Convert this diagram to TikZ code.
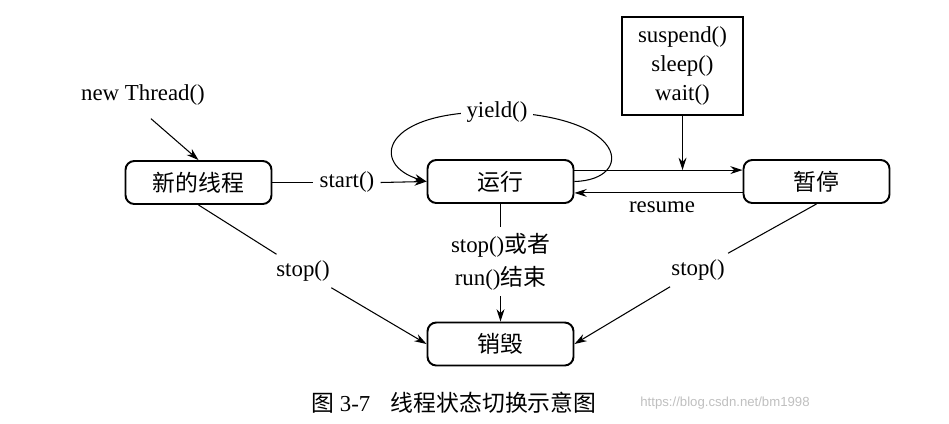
\documentclass[tikz,border=0pt]{standalone}
\usepackage{fontspec}
\setmainfont{Liberation Serif}
\newfontfamily\cjk{Noto Sans CJK SC}
\newfontfamily\wmfont{Liberation Sans}
\usetikzlibrary{arrows.meta,positioning}

\tikzset{
    state/.style={draw, rounded corners=5pt, line width=1.1pt, minimum width=2.92cm, minimum height=0.86cm, font=\fontsize{13}{16}\selectfont\cjk},
    lbl/.style={font=\fontsize{13}{18.7}\selectfont, align=center},
}

\begin{document}
\begin{tikzpicture}[x=0.02cm, y=-0.02cm, >={Stealth[length=7pt,width=4.5pt]}, line width=0.6pt]
        \useasboundingbox (0,0) rectangle (949,423);

        % the states
        \node[state] (new) at (198.5,182.5) {新的线程};
        \node[state] (run) at (500.5,181.5) {运行};
        \node[state] (pause) at (816.5,181.5) {暂停};
        \node[state] (kill) at (500.5,344) {销毁};
        \node[draw, line width=1pt, minimum width=2.42cm, minimum height=1.96cm, lbl, font=\fontsize{13}{16.5}\selectfont] (susp) at (682.5,66) {suspend()\\sleep()\\wait()};

        % the texts on the connectors
        \node[lbl] (newthr) at (143,95) {new Thread()};
        \node[lbl] (start) at (347,182.5) {start()};
        \node[lbl] (resume) at (662,207) {resume};
        \node[lbl] (stopL) at (303,271) {stop()};
        \node[lbl] (stopR) at (698,270) {stop()};
        \node[lbl] (stopM) at (500.5,261.5) {stop(){\cjk 或者}\\run(){\cjk 结束}};

        % the yield loop, the label is put on it afterwards
        \coordinate (ytop) at (497,112);
        \draw[->] (run.east) .. controls (635,180) and (630,115) .. (ytop) .. controls (380,110) and (370,165) .. (run.west);
        \node[lbl, fill=white] (yield) at (ytop) {yield()};

        % draw the arrows
        \draw[->, shorten <=6pt] (newthr.south) -- (new.north);
        \draw (new.east) -- (start.west);
        \draw[->] (start.east) -- (run.west);
        \draw[->] ([yshift=6.5pt]run.east) -- ([yshift=6.5pt]pause.west);
        \draw[->] ([yshift=-6.5pt]pause.west) -- ([yshift=-6.5pt]run.east);
        \path ([yshift=6.5pt]pause.west) coordinate (pin);
        \draw[->] (susp.south) -- (susp.south |- pin);
        \draw (new.south) -- (stopL);
        \draw[->] (stopL) -- (kill.west);
        \draw (pause.south) -- (stopR);
        \draw[->] (stopR) -- (kill.east);
        \draw (run.south) -- (stopM.north);
        \draw[->] (stopM.south) -- (kill.north);

        % caption and watermark
        \node[anchor=west, font=\fontsize{13}{16}\selectfont] (cap) at (305,403) {{\cjk 图}~3-7\hspace{0.9em}{\cjk 线程状态切换示意图}};
        \node[anchor=west, font=\wmfont\fontsize{7.5}{9}\selectfont, text=black!25] (wm) at (634,403) {https://blog.csdn.net/bm1998};
\end{tikzpicture}
\end{document}
